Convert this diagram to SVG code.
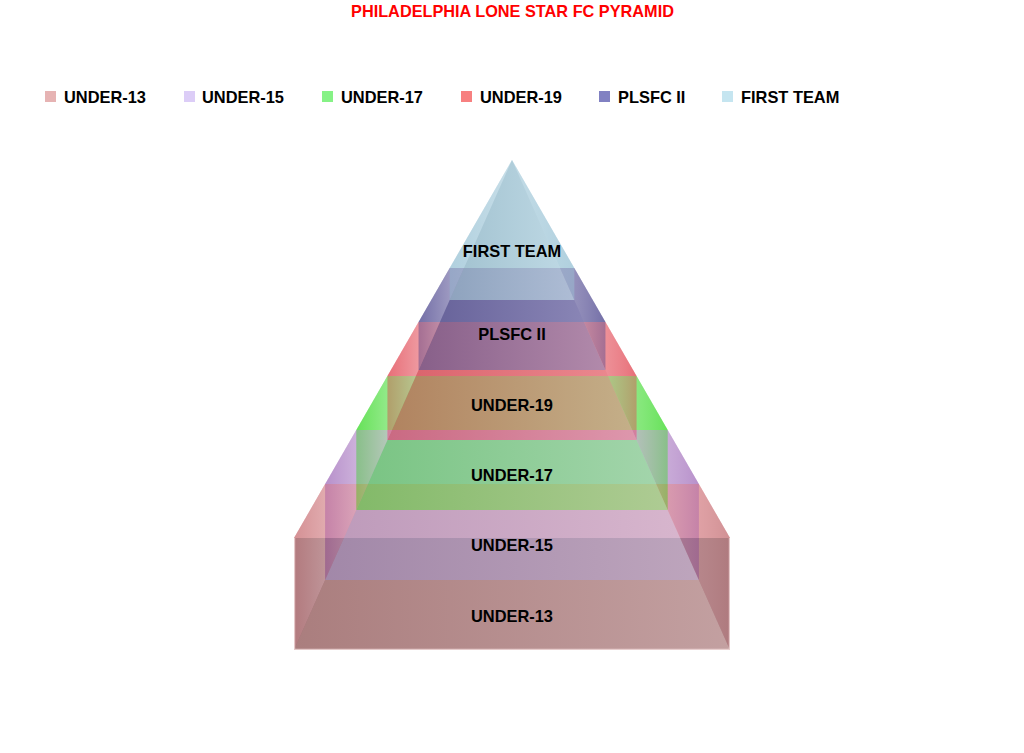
<svg xmlns="http://www.w3.org/2000/svg" width="1024" height="753" viewBox="0 0 1024 753">
<defs>
<style>
.t{font-family:"Liberation Sans",Arial,sans-serif;font-weight:bold;}
.title{font-size:16.3px;fill:#FF0000;text-anchor:middle;}
.lg{font-size:16.4px;fill:#000;}
.lb{font-size:16.4px;fill:#000;text-anchor:middle;}
.bk{fill-opacity:.6;}
.fr{fill-opacity:.6;}
</style>
<linearGradient id="fFT" x1="0" x2="1" y1="0" y2="0"><stop offset="0" stop-color="#8BB0C0"/><stop offset="1" stop-color="#BFDAE6"/></linearGradient>
<linearGradient id="fPL" x1="0" x2="1" y1="0" y2="0"><stop offset="0" stop-color="#443F80"/><stop offset="1" stop-color="#8A86B8"/></linearGradient>
<linearGradient id="fU19" x1="0" x2="1" y1="0" y2="0"><stop offset="0" stop-color="#CB3F4A"/><stop offset="1" stop-color="#EC8A90"/></linearGradient>
<linearGradient id="fU17" x1="0" x2="1" y1="0" y2="0"><stop offset="0" stop-color="#44D54A"/><stop offset="1" stop-color="#8CF290"/></linearGradient>
<linearGradient id="fU15" x1="0" x2="1" y1="0" y2="0"><stop offset="0" stop-color="#A5A0D1"/><stop offset="1" stop-color="#D3D0F2"/></linearGradient>
<linearGradient id="fU13" x1="0" x2="1" y1="0" y2="0"><stop offset="0" stop-color="#B38F8A"/><stop offset="1" stop-color="#DCC8C4"/></linearGradient>

<linearGradient id="lFT" x1="0" x2="1" y1="0" y2="0"><stop offset="0" stop-color="#9AC3D5" stop-opacity=".45"/><stop offset="1" stop-color="#CDE1EA" stop-opacity=".45"/></linearGradient>
<linearGradient id="rFT" x1="0" x2="1" y1="0" y2="0"><stop offset="0" stop-color="#C2DBE6" stop-opacity=".35"/><stop offset="1" stop-color="#9AC3D5" stop-opacity=".45"/></linearGradient>
<linearGradient id="lPL" x1="0" x2="1" y1="0" y2="0"><stop offset="0" stop-color="#4C468E" stop-opacity=".45"/><stop offset="1" stop-color="#A6A3C7" stop-opacity=".45"/></linearGradient>
<linearGradient id="rPL" x1="0" x2="1" y1="0" y2="0"><stop offset="0" stop-color="#9490BB" stop-opacity=".35"/><stop offset="1" stop-color="#4C468E" stop-opacity=".45"/></linearGradient>
<linearGradient id="lU19" x1="0" x2="1" y1="0" y2="0"><stop offset="0" stop-color="#E14652" stop-opacity=".45"/><stop offset="1" stop-color="#F0A3A9" stop-opacity=".45"/></linearGradient>
<linearGradient id="rU19" x1="0" x2="1" y1="0" y2="0"><stop offset="0" stop-color="#ED9097" stop-opacity=".35"/><stop offset="1" stop-color="#E14652" stop-opacity=".45"/></linearGradient>
<linearGradient id="lU17" x1="0" x2="1" y1="0" y2="0"><stop offset="0" stop-color="#3BD92A" stop-opacity=".45"/><stop offset="1" stop-color="#9DEC95" stop-opacity=".45"/></linearGradient>
<linearGradient id="rU17" x1="0" x2="1" y1="0" y2="0"><stop offset="0" stop-color="#89E87F" stop-opacity=".35"/><stop offset="1" stop-color="#3BD92A" stop-opacity=".45"/></linearGradient>
<linearGradient id="lU15" x1="0" x2="1" y1="0" y2="0"><stop offset="0" stop-color="#A371BC" stop-opacity=".45"/><stop offset="1" stop-color="#D1B8DE" stop-opacity=".45"/></linearGradient>
<linearGradient id="rU15" x1="0" x2="1" y1="0" y2="0"><stop offset="0" stop-color="#C8AAD7" stop-opacity=".35"/><stop offset="1" stop-color="#A371BC" stop-opacity=".45"/></linearGradient>
<linearGradient id="lU13" x1="0" x2="1" y1="0" y2="0"><stop offset="0" stop-color="#C89090" stop-opacity=".5"/><stop offset="1" stop-color="#E0C4C4" stop-opacity=".5"/></linearGradient>
<linearGradient id="rU13" x1="0" x2="1" y1="0" y2="0"><stop offset="0" stop-color="#DCB8B8" stop-opacity=".4"/><stop offset="1" stop-color="#C09090" stop-opacity=".5"/></linearGradient>
</defs>
<rect width="1024" height="753" fill="#FFFFFF"/>
<text class="t title" x="512.5" y="16.5">PHILADELPHIA LONE STAR FC PYRAMID</text>

<g id="legend">
<g id="legend-u13"><rect x="45" y="91" width="11" height="11" fill="#E6B3B3"/><text class="t lg" x="64" y="103">UNDER-13</text></g>
<g id="legend-u15"><rect x="184" y="91" width="11" height="11" fill="#DCCDF7"/><text class="t lg" x="202" y="103">UNDER-15</text></g>
<g id="legend-u17"><rect x="322" y="91" width="11" height="11" fill="#86F286"/><text class="t lg" x="341" y="103">UNDER-17</text></g>
<g id="legend-u19"><rect x="461" y="91" width="11" height="11" fill="#F78080"/><text class="t lg" x="480" y="103">UNDER-19</text></g>
<g id="legend-pl"><rect x="599" y="91" width="11" height="11" fill="#8181C2"/><text class="t lg" x="618" y="103">PLSFC II</text></g>
<g id="legend-ft"><rect x="722" y="91" width="11" height="11" fill="#C5E5F0"/><text class="t lg" x="741" y="103">FIRST TEAM</text></g>
</g>

<g id="slice-under-13">
<rect fill="#6A1420" fill-opacity=".66" x="294" y="538" width="436" height="112"/>
<polygon class="bk" fill="#CD4853" points="325.14,484 698.86,484 730,538 294,538"/>
<polygon fill="url(#lU13)" points="325.14,484 325.14,580 294,650 294,538"/>
<polygon fill="url(#rU13)" points="698.86,484 698.86,580 730,650 730,538"/>
<polygon class="fr" fill="url(#fU13)" points="325.14,580 698.86,580 730,650 294,650"/>
<polyline fill="none" stroke="#F2DCDC" stroke-width="1.2" stroke-opacity=".8" points="294.6,538 294.6,649.4 729.4,649.4 729.4,538"/>
</g>

<g id="slice-under-15">
<polygon class="bk" fill="#A371BC" points="356.29,430 667.71,430 698.86,484 325.14,484"/>
<polygon fill="url(#lU15)" points="356.29,430 356.29,510 325.14,580 325.14,484"/>
<polygon fill="url(#rU15)" points="667.71,430 667.71,510 698.86,580 698.86,484"/>
<polygon class="fr" fill="url(#fU15)" points="356.29,510 667.71,510 698.86,580 325.14,580"/>
</g>

<g id="slice-under-17">
<polygon class="bk" fill="#3BD92A" points="387.43,376 636.57,376 667.71,430 356.29,430"/>
<polygon fill="url(#lU17)" points="387.43,376 387.43,440 356.29,510 356.29,430"/>
<polygon fill="url(#rU17)" points="636.57,376 636.57,440 667.71,510 667.71,430"/>
<polygon class="fr" fill="url(#fU17)" points="387.43,440 636.57,440 667.71,510 356.29,510"/>
</g>

<g id="slice-under-19">
<polygon class="bk" fill="#E14652" points="418.57,322 605.43,322 636.57,376 387.43,376"/>
<polygon fill="url(#lU19)" points="418.57,322 418.57,370 387.43,440 387.43,376"/>
<polygon fill="url(#rU19)" points="605.43,322 605.43,370 636.57,440 636.57,376"/>
<polygon class="fr" fill="url(#fU19)" points="418.57,370 605.43,370 636.57,440 387.43,440"/>
</g>

<g id="slice-plsfc-ii">
<polygon class="bk" fill="#4C468E" points="449.71,268 574.29,268 605.43,322 418.57,322"/>
<polygon fill="url(#lPL)" points="449.71,268 449.71,300 418.57,370 418.57,322"/>
<polygon fill="url(#rPL)" points="574.29,268 574.29,300 605.43,370 605.43,322"/>
<polygon class="fr" fill="url(#fPL)" points="449.71,300 574.29,300 605.43,370 418.57,370"/>
</g>

<g id="slice-first-team">
<polygon class="bk" fill="#9AC3D5" points="512,160 574.29,268 449.71,268"/>
<polygon fill="url(#lFT)" points="512,160 449.71,300 449.71,268"/>
<polygon fill="url(#rFT)" points="512,160 574.29,300 574.29,268"/>
<polygon class="fr" fill="url(#fFT)" points="512,160 574.29,300 449.71,300"/>
</g>

<g id="labels">
<text class="t lb" x="512" y="257">FIRST TEAM</text>
<text class="t lb" x="512" y="340">PLSFC II</text>
<text class="t lb" x="512" y="411">UNDER-19</text>
<text class="t lb" x="512" y="481">UNDER-17</text>
<text class="t lb" x="512" y="551">UNDER-15</text>
<text class="t lb" x="512" y="622">UNDER-13</text>
</g>
</svg>
